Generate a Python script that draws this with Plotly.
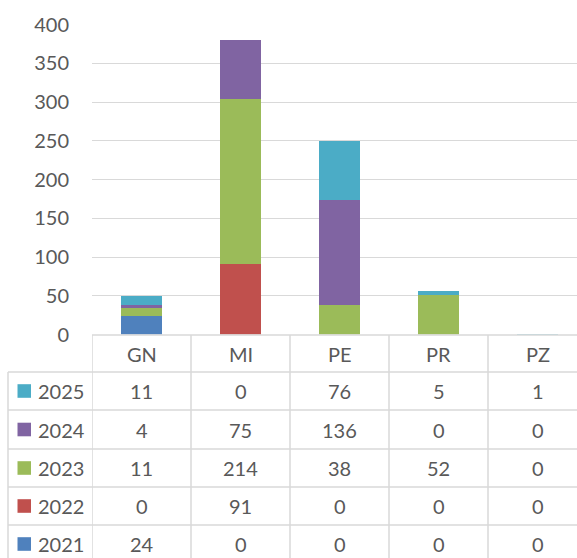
import plotly.graph_objects as go

categories = ["GN", "MI", "PE", "PR", "PZ"]
series_names = ["2021", "2022", "2023", "2024", "2025"]
values_2021 = [24, 0, 0, 0, 0]
values_2022 = [0, 91, 0, 0, 0]
values_2023 = [11, 214, 38, 52, 0]
values_2024 = [4, 75, 136, 0, 0]
values_2025 = [11, 0, 76, 5, 1]
y_ticks = [0, 50, 100, 150, 200, 250, 300, 350, 400]

series_values = [values_2021, values_2022, values_2023, values_2024, values_2025]
colors = ["#4F81BD", "#C0504D", "#9BBB59", "#8064A2", "#4BACC6"]

W, H = 577, 558
FONT = "Lato"
FS = 20
TXT = "#595959"
GRID = "#D9D9D9"


def py(p):
    return (H - p) / H


fig = go.Figure()
for name, vals, col in zip(series_names, series_values, colors):
    fig.add_trace(go.Bar(x=categories, y=vals, name=name, marker=dict(color=col, line=dict(width=0)),
                         width=0.41, showlegend=False))

shapes = []
annotations = []
line = dict(color=GRID, width=1.5)

# table geometry (pixels)
header_top = 335
row_tops = [372, 410, 449, 487, 525]
bottom = H + 5
left_edge = 8 / W
axis_left = 92 / W

# horizontal lines
shapes.append(dict(type="line", xref="paper", yref="paper", x0=axis_left, x1=1.02,
                   y0=py(header_top), y1=py(header_top), line=line))
for t in row_tops:
    shapes.append(dict(type="line", xref="paper", yref="paper", x0=left_edge, x1=1.02,
                       y0=py(t), y1=py(t), line=line))
# vertical lines
shapes.append(dict(type="line", xref="paper", yref="paper", x0=left_edge, x1=left_edge,
                   y0=py(row_tops[0]), y1=py(bottom), line=line))
for i in range(len(categories)):
    shapes.append(dict(type="line", xref="x", yref="paper", x0=i - 0.5, x1=i - 0.5,
                       y0=py(header_top), y1=py(bottom), line=line))

# header
for i, c in enumerate(categories):
    annotations.append(dict(x=i, y=py((header_top + row_tops[0]) / 2), xref="x", yref="paper",
                            text=c, showarrow=False, font=dict(family=FONT, size=FS, color=TXT),
                            xanchor="center", yanchor="middle"))

# rows: top row is last series
row_order = list(reversed(range(len(series_names))))
for r, si in enumerate(row_order):
    top = row_tops[r]
    bot = row_tops[r + 1] if r + 1 < len(row_tops) else 563
    cy = (top + bot) / 2
    # legend key
    shapes.append(dict(type="rect", xref="paper", yref="paper", x0=17.5 / W, x1=31 / W,
                       y0=py(cy + 6.8), y1=py(cy - 6.8), fillcolor=colors[si], line=dict(width=0)))
    annotations.append(dict(x=36 / W, y=py(cy), xref="paper", yref="paper", text=series_names[si],
                            showarrow=False, font=dict(family=FONT, size=FS, color=TXT),
                            xanchor="left", yanchor="middle"))
    for i, v in enumerate(series_values[si]):
        annotations.append(dict(x=i, y=py(cy), xref="x", yref="paper", text=str(v), showarrow=False,
                                font=dict(family=FONT, size=FS, color=TXT),
                                xanchor="center", yanchor="middle"))

fig.update_layout(
    width=W, height=H,
    margin=dict(l=0, r=0, t=0, b=0, pad=0),
    paper_bgcolor="white", plot_bgcolor="white",
    barmode="stack", bargap=0,
    showlegend=False,
    xaxis=dict(domain=[axis_left, 1], range=[-0.5, 4.399], showticklabels=False, showgrid=False,
               zeroline=False, showline=False, ticks="", automargin=False),
    yaxis=dict(domain=[py(334.5), py(24.7)], range=[0, 400], tickvals=y_ticks,
               showgrid=True, gridcolor=GRID, gridwidth=1.3, zeroline=False, showline=False,
               ticks="", ticklabelstandoff=22, automargin=False,
               tickfont=dict(family=FONT, size=FS, color=TXT)),
    shapes=shapes,
    annotations=annotations,
)

fig.write_html("out.html", config={"displayModeBar": False},
               post_script="document.body.style.margin='0';document.body.style.overflow='hidden';")
